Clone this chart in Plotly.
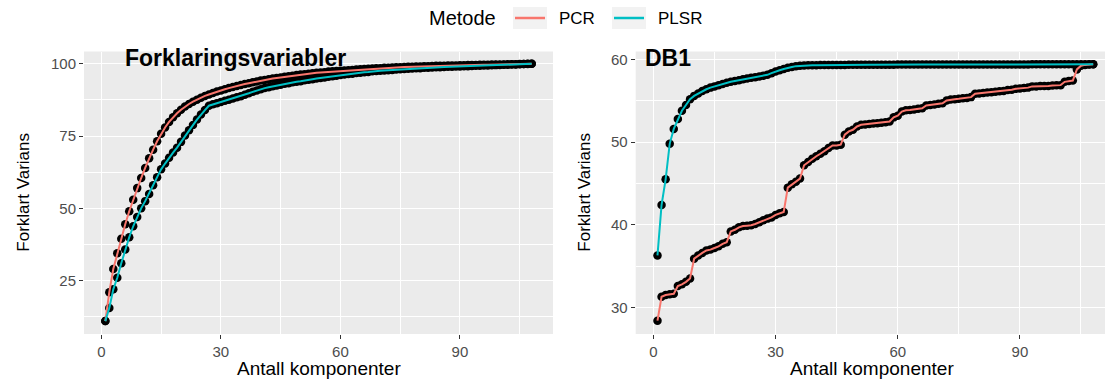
import plotly.graph_objects as go

# ---------------- data ----------------
components = list(range(1, 109))

pcr_forkl = [11.0, 21.0, 29.0, 34.5, 39.5, 44.5, 49.0, 53.0, 57.0, 60.5,
             64.0, 67.3, 70.3, 73.2, 75.8, 78.0, 79.9, 81.5, 82.9, 84.1,
             85.2, 86.1, 86.9, 87.6, 88.3, 88.9, 89.4, 89.9, 90.4, 90.8,
             91.2, 91.6, 92.0, 92.3, 92.7, 93.0, 93.3, 93.6, 93.9, 94.2,
             94.4, 94.7, 94.9, 95.1, 95.3, 95.5, 95.7, 95.9, 96.1, 96.3,
             96.4, 96.6, 96.7, 96.9, 97.0, 97.1, 97.3, 97.4, 97.5, 97.6,
             97.7, 97.8, 97.9, 98.0, 98.1, 98.2, 98.3, 98.4, 98.45, 98.5,
             98.6, 98.65, 98.7, 98.8, 98.85, 98.9, 98.95, 99.0, 99.05, 99.1,
             99.15, 99.2, 99.25, 99.3, 99.33, 99.36, 99.4, 99.43, 99.46, 99.5,
             99.53, 99.56, 99.6, 99.62, 99.65, 99.68, 99.7, 99.73, 99.75, 99.78,
             99.8, 99.83, 99.86, 99.89, 99.92, 99.95, 99.98, 100.0]

plsr_forkl = [11.0, 15.5, 22.0, 26.0, 31.0, 35.8, 40.0, 43.8, 47.0, 50.0,
              52.5, 55.0, 58.0, 60.8, 63.5, 65.5, 67.5, 69.3, 71.0, 73.0,
              75.2, 77.0, 78.8, 80.7, 82.5, 84.0, 85.5, 86.0, 86.4, 86.8,
              87.2, 87.6, 88.0, 88.4, 88.8, 89.3, 89.8, 90.3, 90.8, 91.2,
              91.6, 91.9, 92.2, 92.5, 92.8, 93.1, 93.3, 93.6, 93.8, 94.0,
              94.3, 94.5, 94.7, 94.9, 95.1, 95.3, 95.5, 95.7, 95.9, 96.1,
              96.3, 96.5, 96.6, 96.8, 96.9, 97.1, 97.2, 97.4, 97.5, 97.6,
              97.7, 97.8, 97.9, 98.0, 98.1, 98.2, 98.3, 98.4, 98.45, 98.5,
              98.6, 98.65, 98.7, 98.8, 98.85, 98.9, 98.95, 99.0, 99.05, 99.1,
              99.15, 99.2, 99.25, 99.3, 99.35, 99.4, 99.45, 99.5, 99.55, 99.6,
              99.65, 99.7, 99.75, 99.8, 99.85, 99.9, 99.95, 100.0]

pcr_db1 = [28.4, 31.3, 31.5, 31.6, 31.65, 32.6, 32.8, 33.1, 33.5, 35.9,
           36.3, 36.6, 36.9, 37.0, 37.2, 37.4, 37.7, 37.9, 39.2, 39.4,
           39.7, 39.85, 39.9, 39.95, 40.1, 40.3, 40.55, 40.75, 40.9, 41.2,
           41.4, 41.55, 44.5, 44.9, 45.2, 45.6, 47.2, 47.6, 48.0, 48.3,
           48.6, 48.9, 49.3, 49.6, 49.6, 49.7, 50.9, 51.3, 51.5, 51.9,
           52.1, 52.15, 52.2, 52.25, 52.3, 52.35, 52.4, 52.5, 53.0, 53.2,
           53.7, 53.85, 53.9, 53.95, 54.05, 54.1, 54.45, 54.5, 54.55, 54.65,
           54.7, 55.05, 55.15, 55.2, 55.25, 55.3, 55.35, 55.45, 55.85, 55.9,
           55.95, 56.0, 56.05, 56.1, 56.15, 56.2, 56.3, 56.35, 56.45, 56.5,
           56.55, 56.6, 56.75, 56.75, 56.8, 56.8, 56.8, 56.85, 56.9, 56.9,
           57.3, 57.4, 57.45, 58.8, 59.25, 59.35, 59.4, 59.42]

plsr_db1 = [36.3, 42.4, 45.5, 49.8, 51.6, 52.8, 53.8, 54.5, 55.2, 55.6,
            55.9, 56.2, 56.4, 56.6, 56.75, 56.9, 57.05, 57.2, 57.3, 57.4,
            57.5, 57.6, 57.7, 57.8, 57.85, 57.95, 58.05, 58.15, 58.35, 58.55,
            58.7, 58.85, 59.0, 59.1, 59.2, 59.25, 59.28, 59.3, 59.31, 59.32,
            59.33, 59.33, 59.34, 59.34, 59.35, 59.35, 59.35, 59.36, 59.36, 59.36,
            59.37, 59.37, 59.37, 59.37, 59.38, 59.38, 59.38, 59.38, 59.38, 59.39,
            59.39, 59.39, 59.39, 59.39, 59.39, 59.4, 59.4, 59.4, 59.4, 59.4,
            59.4, 59.4, 59.4, 59.4, 59.4, 59.4, 59.4, 59.41, 59.41, 59.41,
            59.41, 59.41, 59.41, 59.41, 59.41, 59.41, 59.41, 59.41, 59.41, 59.41,
            59.41, 59.41, 59.42, 59.42, 59.42, 59.42, 59.42, 59.42, 59.42, 59.42,
            59.42, 59.42, 59.42, 59.42, 59.42, 59.42, 59.42, 59.42]

panel_titles = ["Forklaringsvariabler", "DB1"]
method_names = ["PCR", "PLSR"]
x_ticks = [0, 30, 60, 90]
y_ticks_left = [25, 50, 75, 100]
y_ticks_right = [30, 40, 50, 60]

# ---------------- style ----------------
W, H = 1105, 379
PCR_COLOR = "#F8766D"
PLSR_COLOR = "#00BFC4"
FONT = "Liberation Sans, Arial, sans-serif"


def fx(p):
    return p / W


def fy(p):
    return 1 - p / H


fig = go.Figure()

panels = [("x", "y", pcr_forkl, plsr_forkl), ("x2", "y2", pcr_db1, plsr_db1)]
for xa, ya, pcr, plsr in panels:
    for vals in (pcr, plsr):
        fig.add_trace(go.Scatter(x=components, y=vals, mode="markers",
                                 marker=dict(color="black", size=8.5),
                                 xaxis=xa, yaxis=ya, showlegend=False,
                                 hoverinfo="skip"))
    for vals, col in ((pcr, PCR_COLOR), (plsr, PLSR_COLOR)):
        fig.add_trace(go.Scatter(x=components, y=vals, mode="lines",
                                 line=dict(color=col, width=2),
                                 xaxis=xa, yaxis=ya, showlegend=False))

ybot, ytop = 334, 51.5
common_axis = dict(ticks="outside", ticklen=4, tickwidth=1.1, tickcolor="#333333",
                   showgrid=True, gridcolor="white", gridwidth=1.3,
                   zeroline=False, showline=False,
                   tickfont=dict(family=FONT, size=15, color="#4D4D4D"))

fig.update_layout(
    width=W, height=H,
    margin=dict(l=0, r=0, t=0, b=0),
    paper_bgcolor="white", plot_bgcolor="#EBEBEB",
    showlegend=False,
    xaxis=dict(domain=[fx(84), fx(553)], range=[-4.35, 113.35], tickvals=x_ticks,
               anchor="y",
               minor=dict(tickvals=[15, 45, 75, 105], showgrid=True,
                          gridcolor="white", gridwidth=0.6, ticks=""),
               **common_axis),
    yaxis=dict(domain=[fy(ybot), fy(ytop)], range=[6.54, 104.26], tickvals=y_ticks_left,
               anchor="x",
               minor=dict(tickvals=[12.5, 37.5, 62.5, 87.5], showgrid=True,
                          gridcolor="white", gridwidth=0.6, ticks=""),
               **common_axis),
    xaxis2=dict(domain=[fx(635.7), 1.0], range=[-4.35, 110.9], tickvals=x_ticks,
                anchor="y2",
                minor=dict(tickvals=[15, 45, 75, 105], showgrid=True,
                           gridcolor="white", gridwidth=0.6, ticks=""),
                **common_axis),
    yaxis2=dict(domain=[fy(ybot), fy(ytop)], range=[26.79, 60.97], tickvals=y_ticks_right,
                anchor="x2",
                minor=dict(tickvals=[35, 45, 55], showgrid=True,
                           gridcolor="white", gridwidth=0.6, ticks=""),
                **common_axis),
)

ann = []
# panel titles
ann.append(dict(x=fx(123), y=fy(58), xref="paper", yref="paper", xanchor="left",
                yanchor="middle", showarrow=False, text="<b>" + panel_titles[0] + "</b>",
                font=dict(family=FONT, size=23, color="black")))
ann.append(dict(x=fx(643), y=fy(58), xref="paper", yref="paper", xanchor="left",
                yanchor="middle", showarrow=False, text="<b>" + panel_titles[1] + "</b>",
                font=dict(family=FONT, size=23, color="black")))
# axis titles
for cx in (318.5, 872):
    ann.append(dict(x=fx(cx), y=fy(368), xref="paper", yref="paper", xanchor="center",
                    yanchor="middle", showarrow=False, text="Antall komponenter",
                    font=dict(family=FONT, size=19, color="black")))
for cx in (24, 585):
    ann.append(dict(x=fx(cx), y=fy(192.7), xref="paper", yref="paper", xanchor="center",
                    yanchor="middle", showarrow=False, text="Forklart Varians",
                    textangle=-90, font=dict(family=FONT, size=17, color="black")))
# legend
ann.append(dict(x=fx(462), y=fy(18), xref="paper", yref="paper", xanchor="center",
                yanchor="middle", showarrow=False, text="Metode",
                font=dict(family=FONT, size=20, color="black")))
shapes = []
for kx, tx, name, col in ((530, 557, method_names[0], PCR_COLOR),
                          (629, 656, method_names[1], PLSR_COLOR)):
    shapes.append(dict(type="rect", xref="paper", yref="paper",
                       x0=fx(kx - 17), x1=fx(kx + 17), y0=fy(29), y1=fy(7),
                       fillcolor="#F2F2F2", line=dict(width=0), layer="below"))
    shapes.append(dict(type="line", xref="paper", yref="paper",
                       x0=fx(kx - 15), x1=fx(kx + 15), y0=fy(18), y1=fy(18),
                       line=dict(color=col, width=2.5)))
    ann.append(dict(x=fx(tx), y=fy(18), xref="paper", yref="paper", xanchor="left",
                    yanchor="middle", showarrow=False, text=name,
                    font=dict(family=FONT, size=17, color="black")))

fig.update_layout(annotations=ann, shapes=shapes)
fig.write_html("out.html", config={"displayModeBar": False},
               post_script="document.body.style.margin='0px';document.body.style.padding='0px';")
